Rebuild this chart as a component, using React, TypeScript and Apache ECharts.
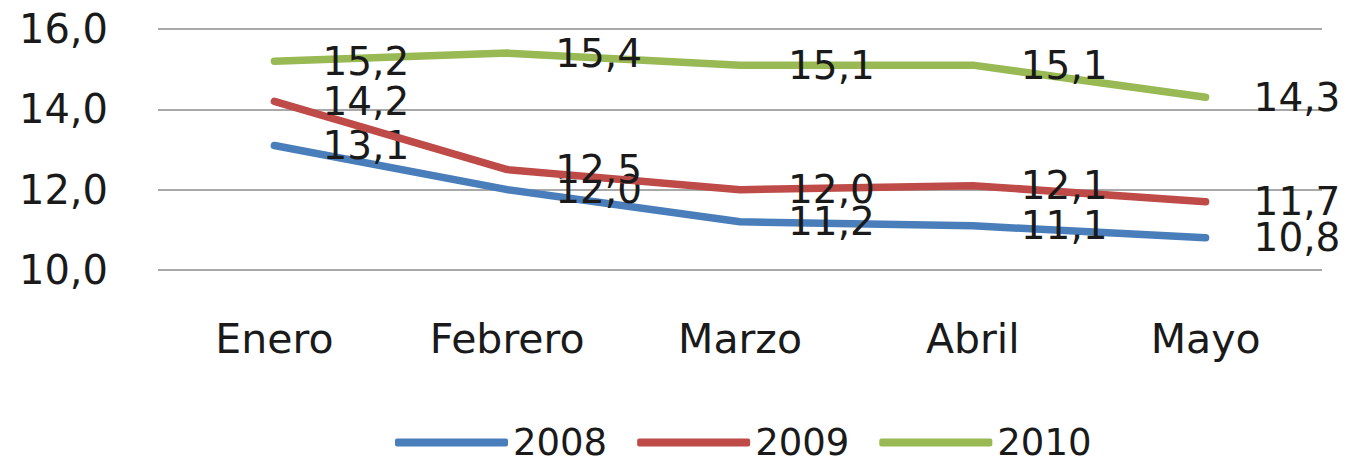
import React, { useEffect, useRef } from "react";
import * as echarts from "echarts";

const categories = ["Enero", "Febrero", "Marzo", "Abril", "Mayo"];
const seriesNames = ["2008", "2009", "2010"];
const values2008 = [13.1, 12.0, 11.2, 11.1, 10.8];
const values2009 = [14.2, 12.5, 12.0, 12.1, 11.7];
const values2010 = [15.2, 15.4, 15.1, 15.1, 14.3];
const colors = ["#4A7EBB", "#BE4B48", "#98B954"];

const fmt = (v: number) => v.toFixed(1).replace(".", ",");

export default function App() {
  const ref = useRef<HTMLDivElement>(null);
  useEffect(() => {
    document.body.style.margin = "0";
    if (!ref.current) return;
    const chart = echarts.init(ref.current, undefined, { renderer: "svg" });
    const font = "DejaVu Sans";
    const allValues = [values2008, values2009, values2010];
    chart.setOption({
      animation: false,
      backgroundColor: "#ffffff",
      color: colors,
      grid: { left: 158, right: 34, top: 29, bottom: 194, containLabel: false },
      legend: {
        left: 395,
        top: 424,
        padding: 0,
        itemWidth: 113,
        itemHeight: 8,
        itemGap: 30,
        icon: "roundRect",
        data: seriesNames,
        textStyle: { fontFamily: font, fontSize: 37, color: "#1a1a1a" },
      },
      xAxis: {
        type: "category",
        data: categories,
        boundaryGap: true,
        axisLine: { show: false },
        axisTick: { show: false },
        axisLabel: {
          margin: 48,
          fontFamily: font,
          fontSize: 41,
          color: "#1a1a1a",
        },
      },
      yAxis: {
        type: "value",
        min: 10,
        max: 16,
        interval: 2,
        axisLine: { show: false },
        axisTick: { show: false },
        splitLine: { lineStyle: { color: "#8c8c8c", width: 1.5 } },
        axisLabel: {
          margin: 50,
          fontFamily: font,
          fontSize: 40,
          color: "#1a1a1a",
          formatter: (v: number) => fmt(v),
        },
      },
      series: seriesNames.map((name, i) => ({
        name,
        type: "line",
        data: allValues[i],
        symbol: "circle",
        symbolSize: 0,
        showSymbol: true,
        lineStyle: { width: 7.5, color: colors[i], cap: "round", join: "round" },
        itemStyle: { color: colors[i] },
        label: {
          show: true,
          position: "right",
          distance: 48,
          fontFamily: font,
          fontSize: 39,
          color: "#1a1a1a",
          formatter: (p: any) => fmt(p.value),
        },
        labelLayout: { hideOverlap: false },
        z: 2 + i,
      })),
    });
    return () => chart.dispose();
  }, []);
  return <div ref={ref} style={{ width: 1356, height: 464 }} />;
}
